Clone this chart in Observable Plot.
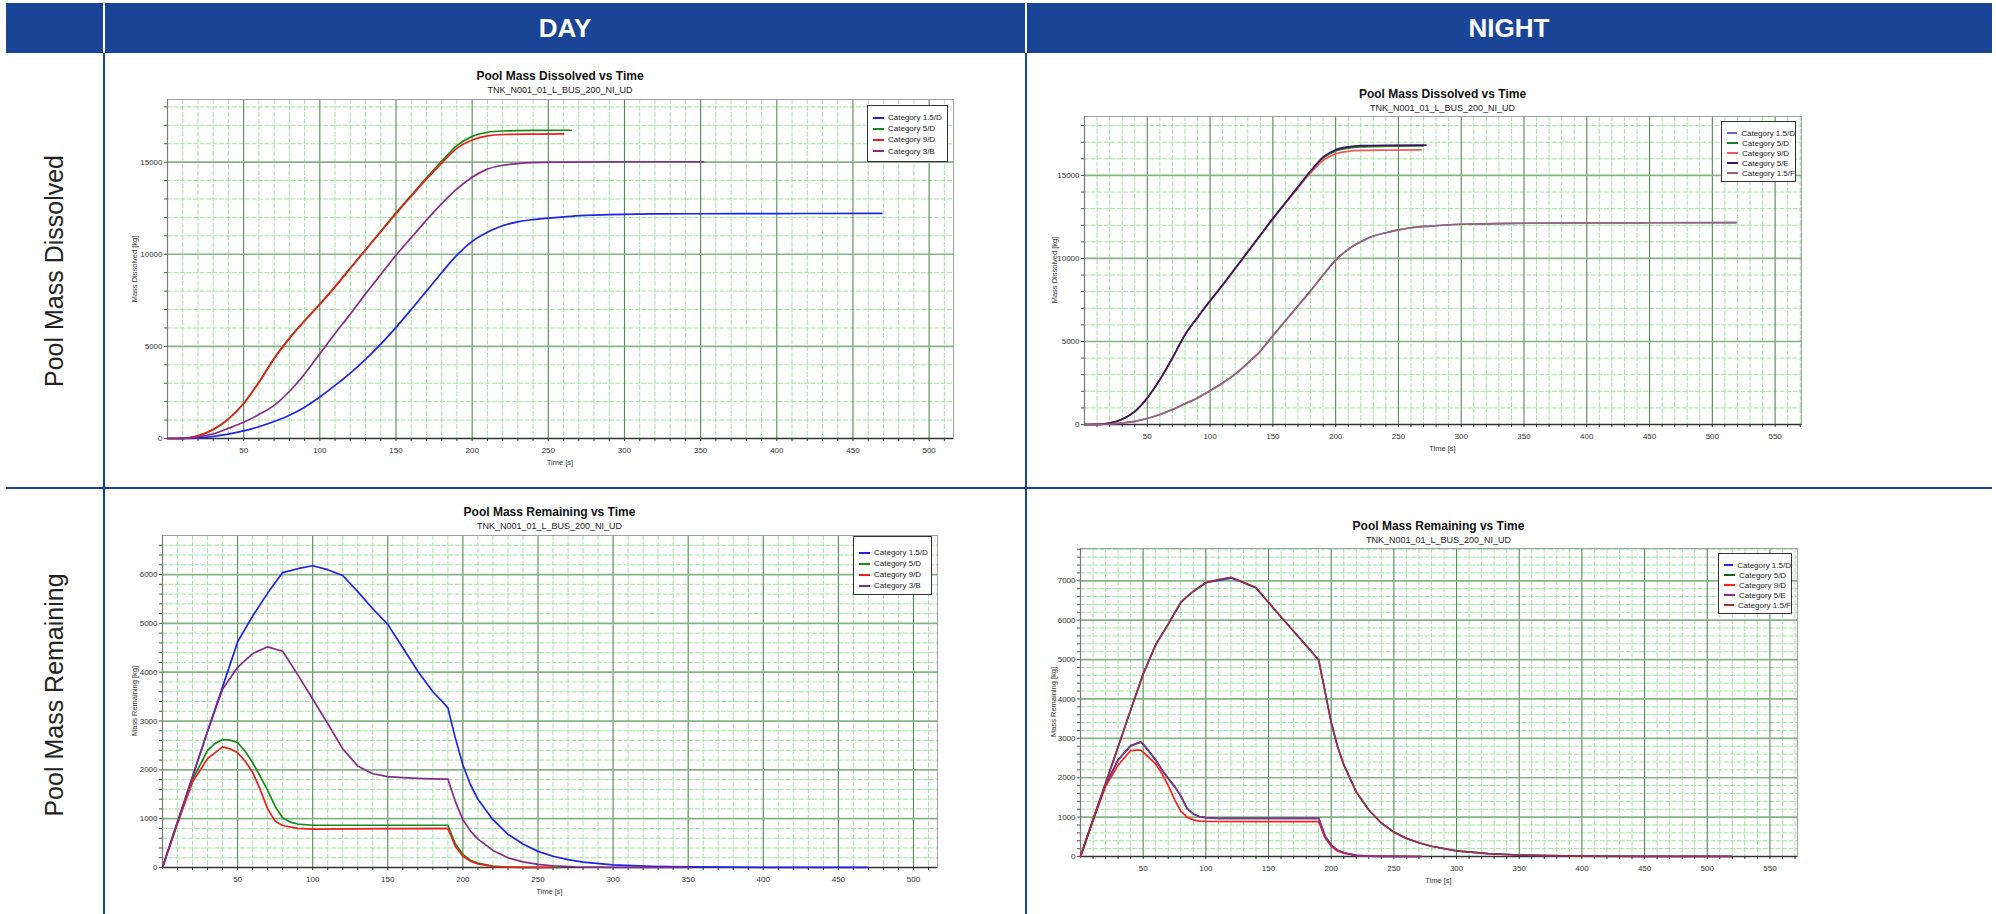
<!DOCTYPE html>
<html><head><meta charset="utf-8">
<script src="https://cdn.jsdelivr.net/npm/d3@7"></script>
<script src="https://cdn.jsdelivr.net/npm/@observablehq/plot@0.6"></script>
<style>
html,body{margin:0;padding:0;background:#fff;}
#page{position:relative;width:1996px;height:914px;overflow:hidden;font-family:"Liberation Sans",Arial,sans-serif;background:#fff;}
.hdr{position:absolute;left:6px;top:3px;width:1986px;height:50px;background:#1a4596;}
.hdrtxt{position:absolute;top:28px;transform:translate(-50%,-50%);color:#fff;font-weight:bold;font-size:26px;}
.wline{position:absolute;top:3px;height:50px;width:2px;background:#fff;}
.vline{position:absolute;top:53px;height:861px;width:2px;background:#1a4596;}
.hline{position:absolute;left:6px;top:487px;width:1986px;height:2px;background:#1a4596;}
.rowlbl{position:absolute;transform:translate(-50%,-50%) rotate(-90deg);font-size:25px;color:#222;white-space:nowrap;}
.ct{position:absolute;transform:translate(-50%,-50%);white-space:nowrap;color:#111;}
.ctitle{font-weight:bold;font-size:12px;}
.csub{font-size:9px;color:#222;}
.axl{font-size:7.5px;color:#333;}
.ylab{position:absolute;transform:translate(-50%,-50%) rotate(-90deg);font-size:7.5px;color:#333;white-space:nowrap;}
.leg{position:absolute;background:#fff;border:1px solid #333;box-sizing:border-box;padding-left:5px;}
.lrow{display:flex;align-items:center;font-size:8px;color:#222;white-space:nowrap;}
.lsw{width:11px;height:2px;margin-right:4px;}
.plotbox{position:absolute;}
</style>
</head><body>
<div id="page">
  <div class="hdr"></div>
  <div class="wline" style="left:103px"></div>
  <div class="wline" style="left:1025px"></div>
  <div class="hdrtxt" style="left:565px">DAY</div>
  <div class="hdrtxt" style="left:1509px">NIGHT</div>
  <div class="vline" style="left:103px"></div>
  <div class="vline" style="left:1025px"></div>
  <div class="hline"></div>
  <div class="rowlbl" style="left:54px;top:271px">Pool Mass Dissolved</div>
  <div class="rowlbl" style="left:54px;top:695px">Pool Mass Remaining</div>
</div>
<script>
// ---------- categories, colours, ticks ----------
const dayCats = ["Category 1.5/D", "Category 5/D", "Category 9/D", "Category 3/B"];
const nightCats = ["Category 1.5/D", "Category 5/D", "Category 9/D", "Category 5/E", "Category 1.5/F"];
const dayColors = ["#1f22e8", "#178a1a", "#ee1e1e", "#8a2b8c"];
const nightDisColors = ["#6b66e6", "#217a28", "#f25a5a", "#3c1464", "#9c6472"];
const nightRemColors = ["#2a2af0", "#0b6b14", "#ff2020", "#8a2c9e", "#a0303c"];
const subtitle = "TNK_N001_01_L_BUS_200_NI_UD";
const xTicksDay = [50, 100, 150, 200, 250, 300, 350, 400, 450, 500];
const xTicksNight = [50, 100, 150, 200, 250, 300, 350, 400, 450, 500, 550];
const yTicksDis = [0, 5000, 10000, 15000];
const yTicksRemDay = [0, 1000, 2000, 3000, 4000, 5000, 6000];
const yTicksRemNight = [0, 1000, 2000, 3000, 4000, 5000, 6000, 7000];

// ---------- DAY : Pool Mass Dissolved [time s, kg] ----------
const dayDis_15D = [[0,0],[10,5],[20,30],[30,110],[40,240],[50,410],[60,640],[70,920],[80,1260],[90,1700],[100,2250],[110,2880],[120,3550],[130,4300],[140,5120],[150,6030],[160,7000],[170,8000],[180,9000],[190,9950],[200,10700],[210,11200],[220,11550],[230,11760],[240,11880],[250,11960],[265,12060],[280,12120],[300,12170],[325,12190],[350,12200],[400,12210],[469,12220]];
const dayDis_5D = [[0,0],[5,0],[10,10],[20,130],[30,480],[40,1050],[50,1900],[60,3050],[70,4350],[80,5450],[90,6400],[100,7300],[110,8250],[120,9250],[130,10250],[140,11250],[150,12250],[160,13200],[170,14150],[180,15050],[190,15900],[200,16400],[210,16620],[220,16690],[240,16720],[265,16730]];
const dayDis_9D = [[0,0],[5,0],[10,10],[20,140],[30,500],[40,1070],[50,1900],[60,3050],[70,4330],[80,5420],[90,6380],[100,7280],[110,8230],[120,9230],[130,10230],[140,11220],[150,12200],[160,13150],[170,14080],[180,14950],[190,15750],[200,16200],[210,16430],[220,16500],[240,16520],[260,16530]];
const dayDis_3B = [[0,0],[10,10],[20,80],[30,250],[40,550],[50,880],[60,1300],[70,1800],[80,2550],[90,3500],[100,4600],[110,5700],[120,6750],[130,7850],[140,8900],[150,9950],[160,10900],[170,11850],[180,12750],[190,13550],[200,14180],[210,14620],[220,14830],[230,14920],[240,14970],[260,15000],[300,15020],[352,15020]];

// ---------- NIGHT : Pool Mass Dissolved ----------
const nightDis_15D = [[0,0],[10,5],[20,30],[30,90],[40,190],[50,360],[60,600],[70,900],[80,1250],[90,1600],[100,2030],[110,2500],[120,3030],[130,3700],[140,4420],[150,5350],[160,6250],[170,7150],[180,8050],[190,9000],[200,9900],[210,10550],[220,11000],[230,11350],[240,11550],[250,11720],[260,11850],[275,11950],[300,12060],[350,12120],[400,12140],[450,12150],[519,12160]];
const nightDis_5D = [[0,0],[10,5],[20,80],[30,320],[40,780],[50,1600],[60,2700],[70,4000],[80,5400],[90,6450],[100,7450],[110,8400],[120,9400],[130,10400],[140,11400],[150,12400],[160,13350],[170,14300],[180,15250],[190,16050],[200,16480],[210,16650],[220,16720],[240,16760],[270,16780]];
const nightDis_9D = [[0,0],[10,5],[20,80],[30,320],[40,780],[50,1600],[60,2700],[70,4000],[80,5400],[90,6450],[100,7450],[110,8400],[120,9400],[130,10400],[140,11380],[150,12370],[160,13320],[170,14250],[180,15150],[190,15900],[200,16300],[210,16450],[220,16510],[240,16530],[268,16540]];
const nightDis_5E = [[0,0],[10,5],[20,80],[30,320],[40,780],[50,1600],[60,2700],[70,4000],[80,5400],[90,6450],[100,7450],[110,8400],[120,9400],[130,10400],[140,11400],[150,12400],[160,13350],[170,14300],[180,15250],[190,16100],[200,16550],[210,16720],[220,16790],[240,16820],[272,16830]];
const nightDis_15F = [[0,0],[10,5],[20,30],[30,90],[40,190],[50,360],[60,600],[70,900],[80,1250],[90,1600],[100,2030],[110,2500],[120,3030],[130,3700],[140,4420],[150,5350],[160,6250],[170,7150],[180,8050],[190,9000],[200,9900],[210,10550],[220,11000],[230,11350],[240,11550],[250,11720],[260,11850],[275,11950],[300,12060],[350,12120],[400,12140],[450,12150],[519,12160]];

// ---------- DAY : Pool Mass Remaining ----------
const dayRem_15D = [[0,0],[10,930],[20,1860],[30,2790],[40,3700],[50,4620],[60,5150],[70,5620],[80,6040],[90,6120],[100,6180],[110,6100],[120,5980],[130,5650],[140,5300],[150,4980],[160,4500],[170,4020],[180,3600],[185,3440],[190,3270],[195,2650],[200,2100],[205,1700],[210,1400],[220,980],[230,680],[240,480],[250,330],[260,230],[270,160],[280,110],[300,55],[325,25],[350,12],[400,4],[469,1]];
const dayRem_5D = [[0,0],[10,930],[20,1800],[30,2400],[35,2540],[40,2620],[45,2610],[50,2560],[55,2380],[60,2150],[65,1870],[70,1580],[75,1250],[80,1020],[85,930],[90,890],[100,865],[150,865],[190,865],[195,480],[200,270],[205,150],[210,90],[220,30],[230,10],[240,4],[265,0]];
const dayRem_9D = [[0,0],[10,900],[20,1750],[30,2230],[40,2470],[45,2430],[50,2350],[55,2180],[60,1950],[65,1600],[70,1200],[75,950],[80,860],[90,800],[100,785],[150,795],[190,800],[195,430],[200,230],[205,130],[210,75],[220,20],[230,6],[240,2],[260,0]];
const dayRem_3B = [[0,0],[10,930],[20,1860],[30,2790],[40,3650],[50,4100],[60,4380],[70,4520],[80,4430],[90,3950],[100,3450],[110,2950],[120,2430],[130,2080],[140,1920],[150,1860],[160,1840],[170,1825],[180,1815],[190,1810],[195,1350],[200,980],[205,750],[210,580],[220,350],[230,200],[240,115],[250,65],[260,35],[275,15],[300,4],[352,0]];

// ---------- NIGHT : Pool Mass Remaining ----------
const nightRem_15D = [[0,0],[10,930],[20,1860],[30,2780],[40,3720],[50,4630],[60,5380],[70,5900],[80,6450],[85,6600],[90,6730],[100,6950],[110,7010],[120,7070],[130,6950],[140,6820],[150,6450],[160,6080],[170,5720],[180,5360],[190,4990],[195,4200],[200,3400],[205,2800],[210,2330],[220,1640],[230,1180],[240,850],[250,620],[260,460],[270,350],[280,260],[300,145],[325,75],[350,38],[375,20],[400,11],[450,4],[519,1]];
const nightRem_5D = [[0,0],[10,930],[20,1820],[30,2450],[40,2810],[48,2900],[50,2850],[55,2650],[60,2450],[65,2200],[70,1980],[75,1780],[80,1540],[85,1220],[90,1080],[95,1010],[100,985],[110,970],[150,970],[190,970],[195,520],[200,290],[205,160],[210,95],[220,30],[230,10],[240,4],[272,0]];
const nightRem_9D = [[0,0],[10,930],[20,1780],[30,2320],[40,2690],[45,2700],[48,2700],[50,2650],[55,2500],[60,2350],[65,2100],[70,1800],[75,1450],[80,1150],[85,1000],[90,930],[95,900],[100,890],[150,885],[190,885],[195,480],[200,260],[205,140],[210,85],[220,25],[230,8],[268,0]];
const nightRem_5E = [[0,0],[10,930],[20,1820],[30,2450],[40,2820],[48,2910],[50,2860],[55,2660],[60,2450],[65,2200],[70,1980],[75,1780],[80,1540],[85,1220],[90,1080],[95,1010],[100,985],[110,970],[150,970],[190,975],[195,520],[200,290],[205,160],[210,95],[220,30],[230,10],[240,4],[272,0]];
const nightRem_15F = [[0,0],[10,930],[20,1860],[30,2780],[40,3720],[50,4630],[60,5380],[70,5900],[80,6450],[85,6600],[90,6730],[100,6960],[110,7030],[120,7090],[130,6960],[140,6830],[150,6450],[160,6080],[170,5720],[180,5360],[190,4990],[195,4200],[200,3400],[205,2800],[210,2330],[220,1640],[230,1180],[240,850],[250,620],[260,460],[270,350],[280,260],[300,145],[325,75],[350,38],[375,20],[400,11],[450,4],[519,1]];

// ---------- layout of the four panels ----------
const panels = [
  {x0:167, x1:953, y0:99, y1:438, xMax:516, yMax:18400, xTicks:xTicksDay, yTicks:yTicksDis, yMinorStep:1000,
   title:"Pool Mass Dissolved vs Time", yLabel:"Mass Dissolved [kg]", cats:dayCats, colors:dayColors,
   series:[dayDis_15D, dayDis_5D, dayDis_9D, dayDis_3B], curve:"monotone-x",
   tDy:-23, sDy:-9, yLabDx:-33, leg:{w:81, h:57, top:6, pt:6, lh:11.2}},
  {x0:1084, x1:1801, y0:116, y1:424, xMax:571, yMax:18550, xTicks:xTicksNight, yTicks:yTicksDis, yMinorStep:1000,
   title:"Pool Mass Dissolved vs Time", yLabel:"Mass Dissolved [kg]", cats:nightCats, colors:nightDisColors,
   series:[nightDis_15D, nightDis_5D, nightDis_9D, nightDis_5E, nightDis_15F], curve:"monotone-x",
   tDy:-22, sDy:-8, yLabDx:-30, leg:{w:75, h:61, top:5, pt:6, lh:10}},
  {x0:162, x1:937, y0:535, y1:867, xMax:516, yMax:6800, xTicks:xTicksDay, yTicks:yTicksRemDay, yMinorStep:200,
   title:"Pool Mass Remaining vs Time", yLabel:"Mass Remaining [kg]", cats:dayCats, colors:dayColors,
   series:[dayRem_15D, dayRem_5D, dayRem_9D, dayRem_3B], curve:"linear",
   tDy:-23, sDy:-9, yLabDx:-28, leg:{w:79, h:59, top:1, pt:10, lh:11}},
  {x0:1080, x1:1797, y0:548, y1:856, xMax:572, yMax:7820, xTicks:xTicksNight, yTicks:yTicksRemNight, yMinorStep:200,
   title:"Pool Mass Remaining vs Time", yLabel:"Mass Remaining [kg]", cats:nightCats, colors:nightRemColors,
   series:[nightRem_15D, nightRem_5D, nightRem_9D, nightRem_5E, nightRem_15F], curve:"linear",
   tDy:-22, sDy:-8, yLabDx:-27, leg:{w:74, h:61, top:5, pt:6, lh:10}}
];

const page = document.getElementById("page");
function addText(cls, txt, x, y) {
  const d = document.createElement("div");
  d.className = cls; d.textContent = txt;
  d.style.left = x + "px"; d.style.top = y + "px";
  page.appendChild(d);
  return d;
}

const ML = 50, MR = 6, MT = 6, MB = 22;
for (const p of panels) {
  const w = p.x1 - p.x0, h = p.y1 - p.y0;
  const xMinorAll = d3.range(10, p.xMax, 10);
  const xMinor = xMinorAll.filter(d => d % 50 !== 0);
  const yMinorAll = d3.range(p.yMinorStep, p.yMax, p.yMinorStep);
  const yMinor = yMinorAll.filter(d => !p.yTicks.includes(d));
  const lineMarks = p.series.map((s, i) => Plot.line(s, {
    x: d => d[0], y: d => d[1], stroke: p.colors[i], strokeWidth: 1.7, curve: p.curve
  }));
  const svg = Plot.plot({
    width: w + ML + MR, height: h + MT + MB,
    marginLeft: ML, marginRight: MR, marginTop: MT, marginBottom: MB,
    x: {domain: [0, p.xMax]},
    y: {domain: [0, p.yMax]},
    style: {fontFamily: '"Liberation Sans", Arial, sans-serif', fontSize: "8px", color: "#333", background: "transparent", overflow: "visible"},
    marks: [
      Plot.ruleX(xMinor, {stroke: "#a2e3a2", strokeWidth: 1, strokeDasharray: "5,1.5"}),
      Plot.ruleY(yMinor, {stroke: "#a2e3a2", strokeWidth: 1, strokeDasharray: "5,1.5"}),
      Plot.ruleX(p.xTicks, {stroke: "#4f8c4f", strokeWidth: 1.1}),
      Plot.ruleY(p.yTicks.filter(d => d > 0), {stroke: "#86b386", strokeWidth: 1.7}),
      Plot.frame({stroke: "#a0a0a0"}),
      Plot.ruleX([0], {stroke: "#7a7a7a", strokeWidth: 1.2}),
      Plot.ruleY([0], {stroke: "#333", strokeWidth: 1.3}),
      Plot.axisX({ticks: xMinorAll, tickSize: 3, tickFormat: () => "", label: null, stroke: "#333"}),
      Plot.axisX({ticks: p.xTicks, tickSize: 0, tickPadding: 9, tickFormat: d => String(d), label: null}),
      Plot.axisY({ticks: [0, ...yMinorAll], tickSize: 3, tickFormat: () => "", label: null, stroke: "#555"}),
      Plot.axisY({ticks: p.yTicks, tickSize: 0, tickPadding: 5, tickFormat: d => String(d), label: null}),
      ...lineMarks
    ]
  });
  const box = document.createElement("div");
  box.className = "plotbox";
  box.style.left = (p.x0 - ML) + "px";
  box.style.top = (p.y0 - MT) + "px";
  box.appendChild(svg);
  page.appendChild(box);

  const cx = (p.x0 + p.x1) / 2, cy = (p.y0 + p.y1) / 2;
  addText("ct ctitle", p.title, cx, p.y0 + p.tDy);
  addText("ct csub", subtitle, cx, p.y0 + p.sDy);
  addText("ct axl", "Time [s]", cx, p.y1 + 24);
  addText("ylab", p.yLabel, p.x0 + p.yLabDx, cy);

  // legend
  const lg = document.createElement("div");
  lg.className = "leg";
  lg.style.left = (p.x1 - 5 - p.leg.w) + "px";
  lg.style.top = (p.y0 + p.leg.top) + "px";
  lg.style.width = p.leg.w + "px";
  lg.style.height = p.leg.h + "px";
  lg.style.paddingTop = p.leg.pt + "px";
  p.cats.forEach((c, i) => {
    const r = document.createElement("div");
    r.className = "lrow";
    r.style.height = p.leg.lh + "px";
    const sw = document.createElement("div");
    sw.className = "lsw"; sw.style.background = p.colors[i];
    const t = document.createElement("span"); t.textContent = c;
    r.appendChild(sw); r.appendChild(t);
    lg.appendChild(r);
  });
  page.appendChild(lg);
}
</script>
</body></html>
